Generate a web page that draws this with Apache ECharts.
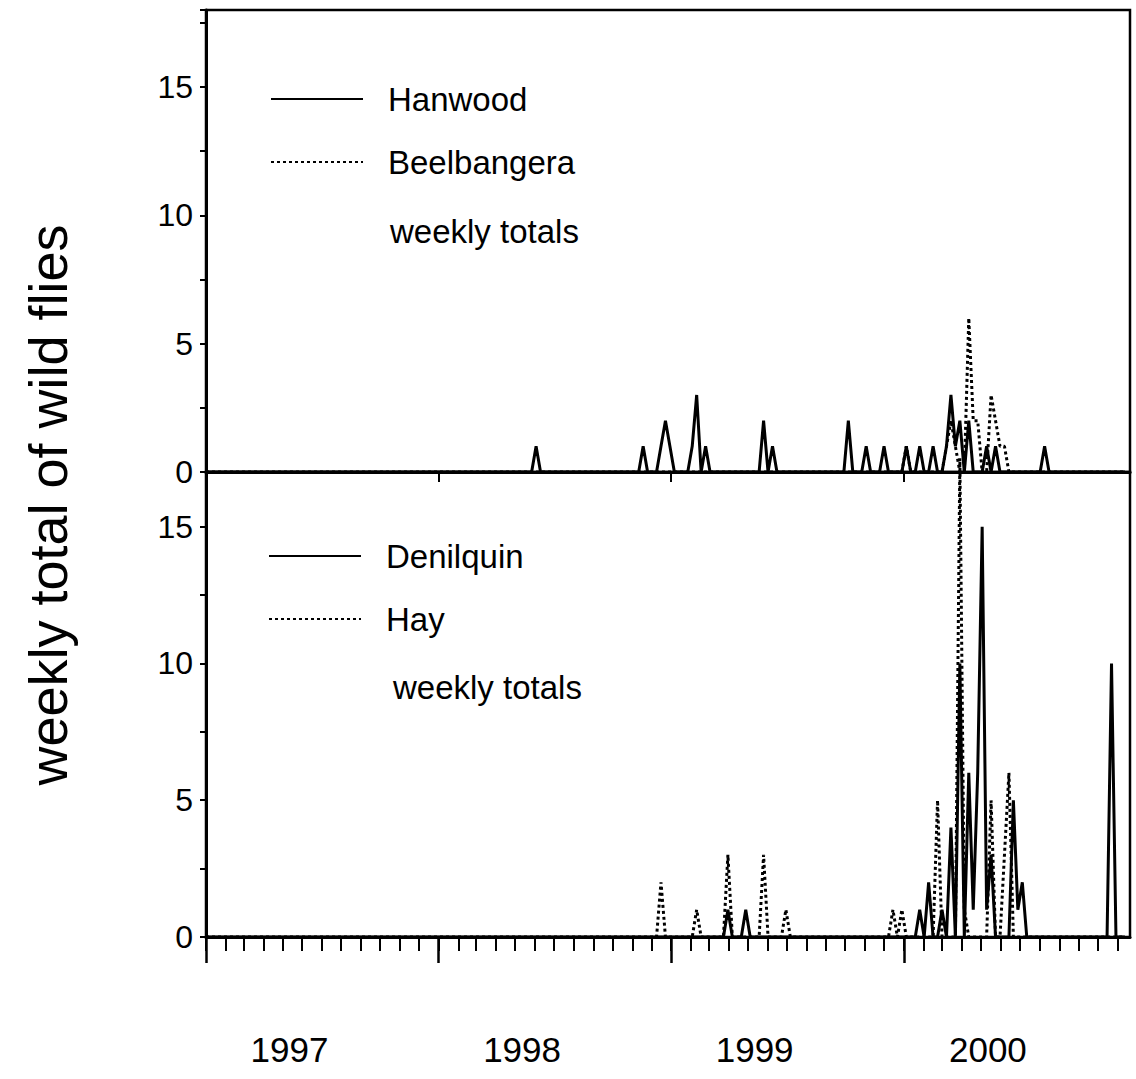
<!DOCTYPE html>
<html><head><meta charset="utf-8">
<script src="https://cdn.jsdelivr.net/npm/echarts@6/dist/echarts.min.js"></script>
<style>html,body{margin:0;padding:0;background:#fff}#c{width:1136px;height:1079px}</style>
</head><body><div id="c"></div>
<script>
// ---- data (weekly totals; weeks counted from 1 Jan 1997, unlisted weeks = 0) ----
const startYear = 1997;
const endDateStr = '2000-12-21';
const weekCount = 207;
const hanwoodWeeks  = [74, 98, 102, 103, 104, 109, 110, 112, 125, 127, 144, 148, 152, 157, 160, 163, 166, 167, 168, 169, 171, 175, 177, 188];
const hanwoodCounts = [1,  1,  1,   2,   1,   1,   3,   1,   2,   1,   2,   1,   1,   1,   1,   1,   1,   3,   1,   2,   2,   1,   1,   1];
const beelWeeks  = [157, 166, 167, 168, 171, 172, 173, 176, 177, 178, 179];
const beelCounts = [1,   1,   2,   1,   6,   2,   2,   3,   2,   1,   1];
const denilWeeks  = [117, 121, 160, 162, 165, 167, 169, 171, 172, 173, 174, 175, 176, 181, 182, 183, 203];
const denilCounts = [1,   1,   1,   2,   1,   4,   10,  6,   1,   6,   15,  1,   3,   5,   1,   2,   10];
const hayWeeks  = [102, 110, 117, 125, 130, 154, 156, 164, 169, 170, 176, 179, 180];
const hayCounts = [2,   1,   3,   3,   1,   1,   1,   5,   17.5, 1,  5,   3,   6];
const yearLabels = ['1997', '1998', '1999', '2000'];
const yTickLabels = [0, 5, 10, 15];
const yTitle = 'weekly total of wild flies';
const legendTop = ['Hanwood', 'Beelbangera'];
const legendBottom = ['Denilquin', 'Hay'];
const noteText = 'weekly totals';

// ---- helpers ----
const DAY = 86400000;
const t0 = Date.UTC(startYear, 0, 1);
const tEnd = Date.parse(endDateStr + 'T00:00:00Z');
function weekly(weeks, counts) {
  const out = [];
  for (let w = 0; w < weekCount; w++) {
    const i = weeks.indexOf(w);
    out.push([t0 + w * 7 * DAY, i >= 0 ? counts[i] : 0]);
  }
  return out;
}
const monthTicks = [];
for (let y = 1997; y <= 2000; y++) for (let m = 0; m < 12; m++) monthTicks.push(Date.UTC(y, m, 1));
const yearStarts = yearLabels.map(s => Date.UTC(+s, 0, 1));
const yearLabelPos = yearLabels.map(s => Date.UTC(+s, 4, 12));

const FONT = '"Liberation Sans", Arial, sans-serif';
const chart = echarts.init(document.getElementById('c'), null, {renderer: 'svg'});
const axisLineStyle = {color: '#000', width: 3};
const yAxisCommon = {
  type: 'value', min: 0, interval: 2.5,
  axisLine: {show: true, lineStyle: axisLineStyle},
  axisTick: {show: true, inside: false, length: 6, lineStyle: {color: '#000', width: 2}},
  axisLabel: {color: '#000', fontSize: 32, fontFamily: FONT, margin: 13,
    formatter: v => (yTickLabels.indexOf(v) >= 0 ? String(v) : '')},
  splitLine: {show: false}
};
const solidLine = {color: '#000', width: 3, type: 'solid'};
const dotLine = {color: '#000', width: 3, type: [3, 3]};
const legendCommon = {
  orient: 'vertical', itemWidth: 92, itemHeight: 14, itemGap: 29, padding: 0, selectedMode: false,
  itemStyle: {opacity: 0},
  textStyle: {color: '#000', fontSize: 33, fontFamily: FONT, lineHeight: 34, padding: [0, 0, 0, 20]}
};

chart.setOption({
  animation: false,
  backgroundColor: '#fff',
  grid: [
    {left: 206, top: 10, width: 924, height: 462, show: true, borderColor: '#000', borderWidth: 2.5},
    {left: 206, top: 472, width: 924, height: 465, show: true, borderColor: '#000', borderWidth: 2.5}
  ],
  xAxis: [
    {type: 'value', gridIndex: 0, min: t0, max: tEnd, position: 'bottom',
      axisLine: {show: true, lineStyle: axisLineStyle},
      axisTick: {show: true, customValues: yearStarts.slice(1), length: 10, lineStyle: {color: '#000', width: 2}},
      axisLabel: {show: false}, splitLine: {show: false}},
    {type: 'value', gridIndex: 1, min: t0, max: tEnd, position: 'bottom',
      axisLine: {show: true, lineStyle: axisLineStyle},
      axisTick: {show: true, customValues: monthTicks, length: 14, lineStyle: {color: '#000', width: 2}},
      axisLabel: {show: false}, splitLine: {show: false}},
    {type: 'value', gridIndex: 1, min: t0, max: tEnd, position: 'bottom',
      axisLine: {show: false},
      axisTick: {show: true, customValues: yearStarts, length: 26, lineStyle: {color: '#000', width: 2.5}},
      axisLabel: {show: true, customValues: yearLabelPos, color: '#000', fontSize: 35, fontFamily: FONT, margin: 95,
        formatter: v => String(new Date(v).getUTCFullYear())},
      splitLine: {show: false}}
  ],
  yAxis: [
    Object.assign({}, yAxisCommon, {gridIndex: 0, max: 18}),
    Object.assign({}, yAxisCommon, {gridIndex: 1, max: 17})
  ],
  legend: [
    Object.assign({}, legendCommon, {data: legendTop, left: 270, top: 82}),
    Object.assign({}, legendCommon, {data: legendBottom, left: 268, top: 539})
  ],
  graphic: [
    {type: 'text', left: 390, top: 215, style: {text: noteText, fill: '#000', font: '33px ' + FONT}},
    {type: 'text', left: 393, top: 671, style: {text: noteText, fill: '#000', font: '33px ' + FONT}},
    {type: 'text', x: 48, y: 505, rotation: Math.PI / 2,
      style: {text: yTitle, fill: '#000', font: '54px ' + FONT, align: 'center', verticalAlign: 'middle'}}
  ],
  series: [
    {name: 'Hanwood', type: 'line', xAxisIndex: 0, yAxisIndex: 0, data: weekly(hanwoodWeeks, hanwoodCounts),
      showSymbol: false, symbol: 'none', lineStyle: solidLine, itemStyle: {color: '#000'}},
    {name: 'Beelbangera', type: 'line', xAxisIndex: 0, yAxisIndex: 0, data: weekly(beelWeeks, beelCounts),
      showSymbol: false, symbol: 'none', lineStyle: dotLine, itemStyle: {color: '#000'}},
    {name: 'Denilquin', type: 'line', xAxisIndex: 1, yAxisIndex: 1, data: weekly(denilWeeks, denilCounts),
      showSymbol: false, symbol: 'none', lineStyle: solidLine, itemStyle: {color: '#000'}},
    {name: 'Hay', type: 'line', xAxisIndex: 1, yAxisIndex: 1, data: weekly(hayWeeks, hayCounts), clip: false,
      showSymbol: false, symbol: 'none', lineStyle: dotLine, itemStyle: {color: '#000'}}
  ]
});
</script></body></html>
